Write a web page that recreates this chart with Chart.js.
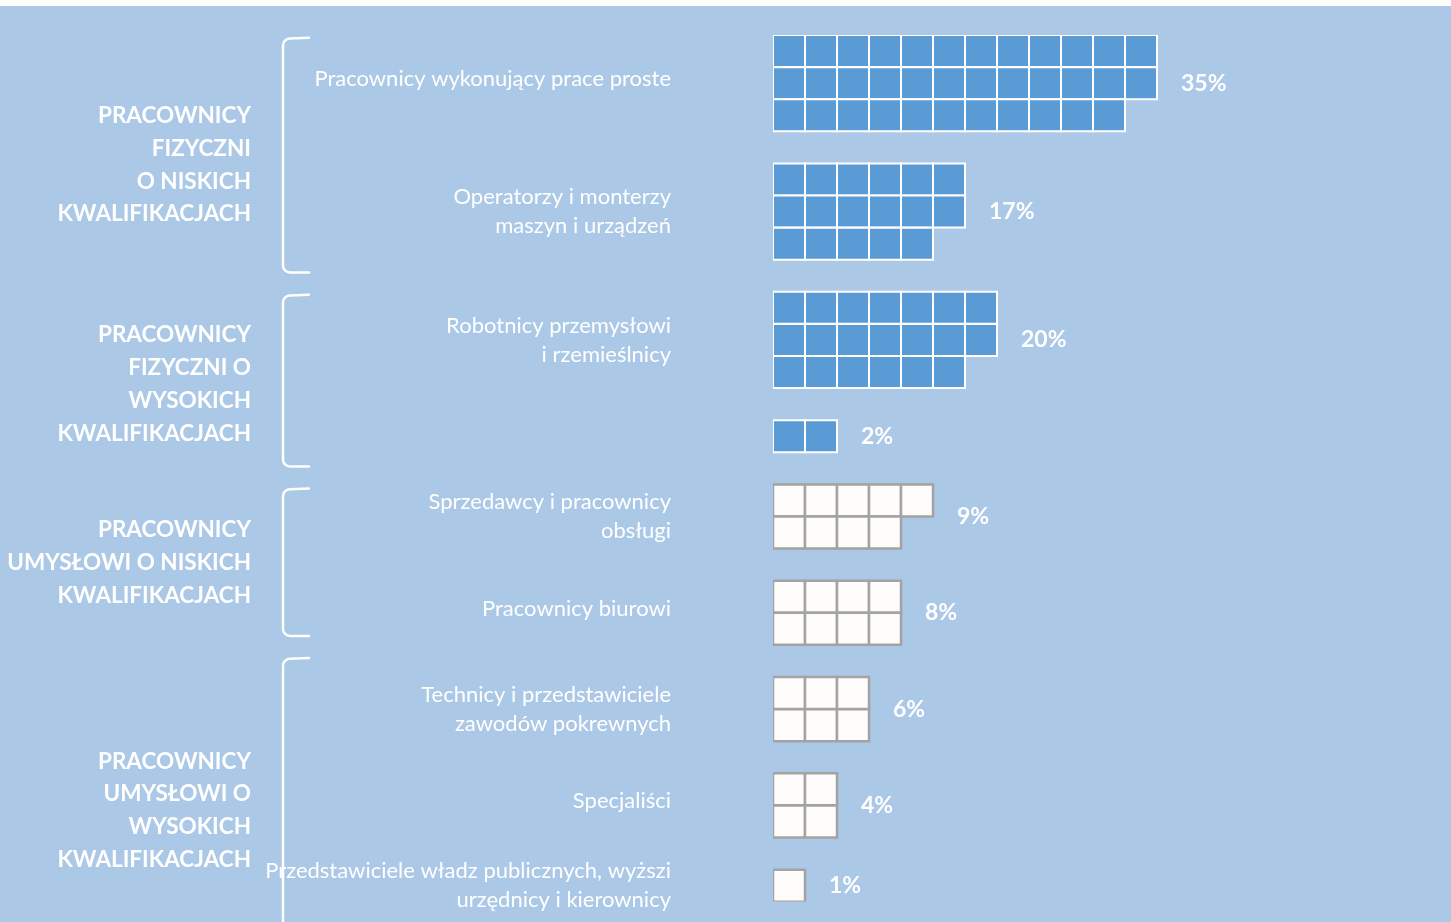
<!DOCTYPE html>
<html lang="pl">
<head>
<meta charset="utf-8">
<title>Struktura zatrudnienia</title>
<script src="https://cdn.jsdelivr.net/npm/chart.js@4.4.1/dist/chart.umd.min.js"></script>
<style>
html,body{margin:0;padding:0;background:#ffffff;overflow:hidden;}
#wrap{width:1451px;height:922px;}
#waffleChart{display:block;}
</style>
</head>
<body>
<div id="wrap"><canvas id="waffleChart" width="1451" height="922"></canvas></div>
<script>

/* =====================
   Data
===================== */

const categories=[
["Pracownicy wykonujący prace proste"],
["Operatorzy i monterzy","maszyn i urządzeń"],
["Robotnicy przemysłowi","i rzemieślnicy"],
[""],
["Sprzedawcy i pracownicy","obsługi"],
["Pracownicy biurowi"],
["Technicy i przedstawiciele","zawodów pokrewnych"],
["Specjaliści"],
["Przedstawiciele władz publicznych, wyższi","urzędnicy i kierownicy"]
];

const shares=[35,17,20,2,9,8,6,4,1];

// how many rows of squares each category uses
const gridRows=[3,3,3,1,2,2,2,2,1];

const groupOf=[0,0,1,1,2,2,3,3,3];

const groups=[
["PRACOWNICY","FIZYCZNI","O NISKICH","KWALIFIKACJACH"],
["PRACOWNICY","FIZYCZNI O","WYSOKICH","KWALIFIKACJACH"],
["PRACOWNICY","UMYSŁOWI O NISKICH","KWALIFIKACJACH"],
["PRACOWNICY","UMYSŁOWI O","WYSOKICH","KWALIFIKACJACH"]
];

// fizyczni (blue) vs umysłowi (white)
const manualGroups=[0,1];


/* =====================
   Build the squares
===================== */

const CELL=32;
const CELL_Y=32.1;

let blueCells=[];
let whiteCells=[];
let catInfo=[];

let rowStart=0;

categories.forEach((cat,i)=>{

let rows=gridRows[i];
let perRow=Math.ceil(shares[i]/rows);
let left=shares[i];

for(let r=0;r<rows;r++){

let n=Math.min(perRow,left);

for(let c=0;c<n;c++){

let cell={x:c,y:rowStart+r};

if(manualGroups.includes(groupOf[i])) blueCells.push(cell);
else whiteCells.push(cell);

}

left-=n;

}

catInfo.push({first:rowStart,last:rowStart+rows-1,width:perRow});

rowStart+=rows+1;

});

// index of the last row that holds squares
const lastRow=rowStart-2;


/* =====================
   Decorations
===================== */

// bracket spans and group label centres, in row units
const bracketSpans=[[-0.38,6.9],[7.62,12.94],[13.66,18.22],[18.94,28]];
const groupLabelRows=[3.55,10.38,15.94,23.66];

const decor={

id:"decor",

beforeDraw(chart){

const c=chart.ctx;
c.save();
c.fillStyle="#ffffff";
c.fillRect(0,0,chart.width,chart.height);
c.fillStyle="#abc8e6";
c.fillRect(0,6,chart.width,chart.height-6);
c.restore();

},

afterDatasetsDraw(chart){

const c=chart.ctx;
const xs=chart.scales.x;
const ys=chart.scales.y;

c.save();
c.fillStyle="#ffffff";
c.textBaseline="middle";

// category labels
c.font="22px Lato";
c.textAlign="right";

categories.forEach((lines,i)=>{

let info=catInfo[i];
let mid=(ys.getPixelForValue(info.first)+ys.getPixelForValue(info.last))/2;
let lh=29;
let y0=mid-(lines.length-1)*lh/2;

if(lines.length===1&&info.last>info.first) y0-=4;

lines.forEach((t,k)=>c.fillText(t,671,y0+k*lh));

});

// percentages
c.font="bold 23px Lato";
c.textAlign="left";

shares.forEach((v,i)=>{

let info=catInfo[i];
let mid=(ys.getPixelForValue(info.first)+ys.getPixelForValue(info.last))/2;
let right=xs.getPixelForValue(info.width-0.5);
c.fillText(v+"%",right+24,mid);

});

// group labels
c.font="bold 22.5px Lato";
c.textAlign="right";

groups.forEach((lines,g)=>{

let mid=ys.getPixelForValue(groupLabelRows[g]);
let lh=32.8;
let y0=mid-(lines.length-1)*lh/2;

lines.forEach((t,k)=>c.fillText(t,251,y0+k*lh));

});

// brackets
c.strokeStyle="#ffffff";
c.lineWidth=2.5;
c.lineCap="round";

bracketSpans.forEach(span=>{

let top=ys.getPixelForValue(span[0]);
let bot=ys.getPixelForValue(span[1]);
let x=283;

c.beginPath();
c.moveTo(309,top-1);
c.arcTo(x,top,x,bot,7);
c.arcTo(x,bot,309,bot,7);
c.lineTo(309,bot);
c.stroke();

});

c.restore();

}

};


/* =====================
   Chart
===================== */

const ctx=document.getElementById("waffleChart").getContext("2d");

const side=CELL/Math.SQRT2;

let waffleChart=new Chart(ctx,{

type:"scatter",

data:{

datasets:[

{
label:"Pracownicy fizyczni",
data:blueCells,
pointStyle:"rect",
pointRadius:side,
pointHoverRadius:side,
backgroundColor:"#5b9bd5",
borderColor:"#ffffff",
borderWidth:2,
hoverBorderWidth:2
},

{
label:"Pracownicy umysłowi",
data:whiteCells,
pointStyle:"rect",
pointRadius:side,
pointHoverRadius:side,
backgroundColor:"#fffdfb",
borderColor:"#a3a3a3",
borderWidth:2.5,
hoverBorderWidth:2.5
}

]

},

options:{

responsive:false,
animation:false,
events:[],

layout:{
autoPadding:false,
padding:{left:773,top:35,right:1451-773-CELL*20,bottom:922-35-CELL_Y*(lastRow+1)}
},

plugins:{
legend:{display:false},
tooltip:{enabled:false}
},

scales:{

x:{
type:"linear",
display:false,
min:-0.5,
max:19.5
},

y:{
type:"linear",
display:false,
reverse:true,
min:-0.5,
max:lastRow+0.5
}

}

},

plugins:[decor]

});

</script>
</body>
</html>
